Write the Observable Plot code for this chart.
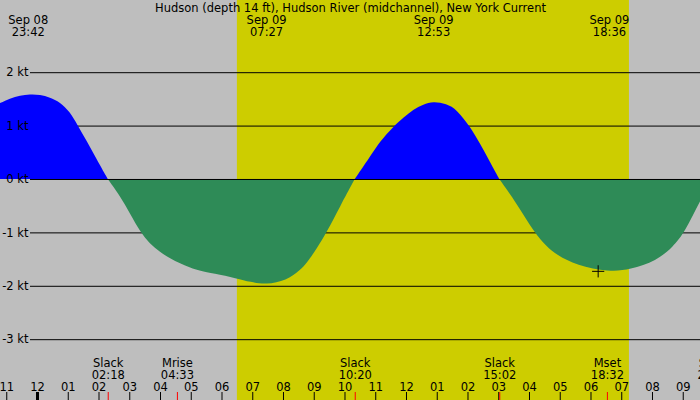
<!DOCTYPE html>
<html>
<head>
<meta charset="utf-8">
<script src="https://cdn.jsdelivr.net/npm/d3@7"></script>
<script src="https://cdn.jsdelivr.net/npm/@observablehq/plot@0.6"></script>
<style>
  html, body { margin: 0; padding: 0; background: #bebebe; }
  #chart svg { display: block; }
</style>
</head>
<body>
<div id="chart"></div>
<script>
// ---- data ----
const title = "Hudson (depth 14 ft), Hudson River (midchannel), New York Current";

const curveTimes = [
  "2024-09-08T22:20Z", "2024-09-08T22:48Z", "2024-09-08T23:07Z", "2024-09-08T23:27Z",
  "2024-09-08T23:46Z", "2024-09-09T00:06Z", "2024-09-09T00:25Z", "2024-09-09T00:45Z",
  "2024-09-09T01:04Z", "2024-09-09T01:19Z", "2024-09-09T01:37Z", "2024-09-09T01:56Z",
  "2024-09-09T02:18Z",
  "2024-09-09T02:42Z", "2024-09-09T03:01Z", "2024-09-09T03:22Z", "2024-09-09T03:40Z",
  "2024-09-09T04:00Z", "2024-09-09T04:20Z", "2024-09-09T04:39Z", "2024-09-09T04:59Z",
  "2024-09-09T05:18Z", "2024-09-09T05:44Z", "2024-09-09T06:30Z", "2024-09-09T06:56Z",
  "2024-09-09T07:27Z", "2024-09-09T08:07Z", "2024-09-09T08:33Z", "2024-09-09T08:46Z",
  "2024-09-09T09:06Z", "2024-09-09T09:25Z", "2024-09-09T09:51Z",
  "2024-09-09T10:20Z",
  "2024-09-09T10:50Z", "2024-09-09T11:09Z", "2024-09-09T11:35Z", "2024-09-09T11:55Z",
  "2024-09-09T12:14Z", "2024-09-09T12:34Z", "2024-09-09T12:53Z", "2024-09-09T13:19Z",
  "2024-09-09T13:39Z", "2024-09-09T14:05Z", "2024-09-09T14:24Z", "2024-09-09T14:44Z",
  "2024-09-09T15:02Z",
  "2024-09-09T15:36Z", "2024-09-09T16:10Z", "2024-09-09T16:35Z", "2024-09-09T16:54Z",
  "2024-09-09T17:33Z", "2024-09-09T18:36Z", "2024-09-09T19:17Z", "2024-09-09T20:09Z",
  "2024-09-09T20:41Z", "2024-09-09T21:04Z", "2024-09-09T21:34Z", "2024-09-09T22:00Z"
];
const curveKnots = [
  1.30, 1.42, 1.51, 1.56,
  1.59, 1.58, 1.53, 1.44,
  1.26, 1.01, 0.71, 0.38,
  0,
  -0.32, -0.64, -1.00, -1.21,
  -1.37, -1.49, -1.58, -1.66,
  -1.72, -1.77, -1.86, -1.93,
  -1.98, -1.90, -1.71, -1.58,
  -1.30, -1.00, -0.52,
  0,
  0.42, 0.70, 0.98, 1.15,
  1.30, 1.40, 1.45, 1.41,
  1.30, 0.98, 0.67, 0.32,
  0,
  -0.46, -1.00, -1.27, -1.42,
  -1.62, -1.74, -1.70, -1.53,
  -1.27, -1.00, -0.39, 0
];

// max / min current labels at the top
const peakTimes  = ["2024-09-08T23:42Z", "2024-09-09T07:27Z", "2024-09-09T12:53Z", "2024-09-09T18:36Z"];
const peakLabels = ["Sep 08\n23:42", "Sep 09\n07:27", "Sep 09\n12:53", "Sep 09\n18:36"];

// events along the bottom
const eventTimes  = ["2024-09-09T02:18Z", "2024-09-09T04:33Z", "2024-09-09T10:20Z", "2024-09-09T15:02Z", "2024-09-09T18:32Z", "2024-09-09T22:00Z"];
const eventLabels = ["Slack\n02:18", "Mrise\n04:33", "Slack\n10:20", "Slack\n15:02", "Mset\n18:32", "Slack\n22:00"];

// daylight band
const daylight = { start: "2024-09-09T06:30Z", end: "2024-09-09T19:15Z" };

// current-time marker
const markerTime = "2024-09-09T18:14Z";
const markerKnots = -1.72;

// axis ticks
const knotTicks = [2, 1, 0, -1, -2, -3];
const hourTicks = [
  "2024-09-08T23:00Z", "2024-09-09T00:00Z", "2024-09-09T01:00Z", "2024-09-09T02:00Z",
  "2024-09-09T03:00Z", "2024-09-09T04:00Z", "2024-09-09T05:00Z", "2024-09-09T06:00Z",
  "2024-09-09T07:00Z", "2024-09-09T08:00Z", "2024-09-09T09:00Z", "2024-09-09T10:00Z",
  "2024-09-09T11:00Z", "2024-09-09T12:00Z", "2024-09-09T13:00Z", "2024-09-09T14:00Z",
  "2024-09-09T15:00Z", "2024-09-09T16:00Z", "2024-09-09T17:00Z", "2024-09-09T18:00Z",
  "2024-09-09T19:00Z", "2024-09-09T20:00Z", "2024-09-09T21:00Z"
];
const midnightTick = "2024-09-09T00:00Z";

// ---- build tables ----
const D = s => new Date(s);
const pts = curveTimes.map((t, i) => ({ t: D(t), v: curveKnots[i] }));
// split into flood / ebb segments at slack (zero) points
const segs = [];
let cur = [];
for (let i = 0; i < pts.length; i++) {
  cur.push(pts[i]);
  if (pts[i].v === 0 && cur.length > 1) {
    segs.push(cur);
    cur = [pts[i]];
  }
}
if (cur.length > 1) segs.push(cur);
const areaRows = [];
segs.forEach((s, k) => {
  const phase = d3.sum(s, d => d.v) >= 0 ? "flood" : "ebb";
  s.forEach(d => areaRows.push({ t: d.t, v: d.v, seg: k, phase }));
});

const xDomain = [D("2024-09-08T22:47:48Z"), D("2024-09-09T21:33:40Z")];
const yDomain = [-4.139, 3.352];

const fmtHour = d3.utcFormat("%I");

const chart = Plot.plot({
  width: 700,
  height: 400,
  margin: 0,
  style: { background: "#bebebe", fontFamily: "DejaVu Sans", fontSize: "11.5px", color: "black" },
  x: { type: "utc", domain: xDomain, axis: null },
  y: { domain: yDomain, axis: null },
  color: { domain: ["flood", "ebb"], range: ["#0000ff", "#2e8b57"] },
  marks: [
    Plot.rect([daylight], { x1: d => D(d.start), x2: d => D(d.end), y1: yDomain[0], y2: yDomain[1], fill: "#cdcd00" }),
    Plot.ruleY(knotTicks, { stroke: "black", strokeWidth: 1, insetLeft: 30 }),
    Plot.areaY(areaRows, { x: "t", y1: 0, y2: "v", z: "seg", fill: "phase", curve: "basis", clip: true }),
    Plot.ruleY([0], { stroke: "black", strokeWidth: 1, insetLeft: 30 }),
    Plot.dot([{ t: D(markerTime), v: markerKnots }], { x: "t", y: "v", symbol: "plus", stroke: "black", strokeWidth: 1, r: 4 }),
    Plot.text(knotTicks, { y: d => d, text: d => `${d} kt`, frameAnchor: "left", textAnchor: "end", dx: 28, fill: "black" }),
    Plot.text([title], { text: d => d, frameAnchor: "top", lineAnchor: "top", dy: 3, fill: "black" }),
    Plot.text(peakTimes, { x: d => D(d), text: (d, i) => peakLabels[i], frameAnchor: "top", lineAnchor: "top", dy: 15, lineHeight: 1.04, fill: "black" }),
    Plot.text(eventTimes, { x: d => D(d), text: (d, i) => eventLabels[i], frameAnchor: "bottom", lineAnchor: "bottom", dy: -22, lineHeight: 1.04, fill: "black" }),
    Plot.text(hourTicks, { x: d => D(d), text: d => fmtHour(D(d)), frameAnchor: "bottom", lineAnchor: "bottom", dy: -10, fill: "black" }),
    Plot.ruleX(hourTicks, { x: d => D(d), stroke: "black", strokeWidth: d => d === midnightTick ? 3 : 1, insetTop: 392 }),
    Plot.ruleX(eventTimes, { x: d => D(d), stroke: "red", strokeWidth: 1, insetTop: 392 })
  ]
});
document.getElementById("chart").appendChild(chart);
</script>
</body>
</html>
